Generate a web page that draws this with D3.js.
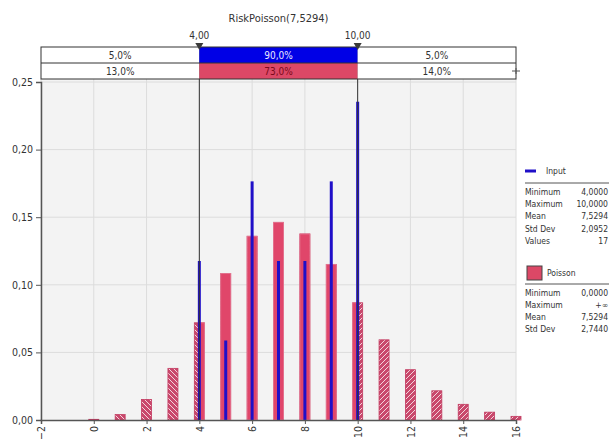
<!DOCTYPE html>
<html lang="en">
  <head>
    <meta charset="utf-8" />
    <title>RiskPoisson(7,5294)</title>
    <script type="text/javascript" src="https://d3js.org/d3.v7.min.js"></script>
    <style>
      body { margin: 0; background: #fff; }
      text { font-family: "DejaVu Sans Condensed", "DejaVu Sans", sans-serif; font-stretch: condensed; fill: #333; }
    </style>
  </head>
  <body>
    <script type="text/javascript">
      // values
      var xTicks = [-2, 0, 2, 4, 6, 8, 10, 12, 14, 16];
      var yTicks = [0, 0.05, 0.1, 0.15, 0.2, 0.25];

      var poissonK = [0, 1, 2, 3, 4, 5, 6, 7, 8, 9, 10, 11, 12, 13, 14, 15, 16];
      var poissonP = [0.0005, 0.004, 0.0152, 0.0382, 0.0719, 0.1083, 0.1359, 0.1462,
                      0.1376, 0.1151, 0.0867, 0.0593, 0.0372, 0.0216, 0.0116, 0.0058, 0.0027];

      var inputK = [4, 5, 6, 7, 8, 9, 10];
      var inputP = [0.1176, 0.0588, 0.1765, 0.1176, 0.1176, 0.1765, 0.2353];

      var markers = [4, 10];
      var markerLabels = ["4,00", "10,00"];
      var bandInput = ["5,0%", "90,0%", "5,0%"];
      var bandPoisson = ["13,0%", "73,0%", "14,0%"];

      var inputStatNames = ["Minimum", "Maximum", "Mean", "Std Dev", "Values"];
      var inputStatValues = ["4,0000", "10,0000", "7,5294", "2,0952", "17"];
      var poissonStatNames = ["Minimum", "Maximum", "Mean", "Std Dev"];
      var poissonStatValues = ["0,0000", "+\u221e", "7,5294", "2,7440"];

      var width = 609, height = 439;
      var mLeft = 41, mRight = 516, mTop = 82, mBottom = 420;

      var x = d3.scaleLinear().domain([-2, 16]).range([mLeft, mRight]);
      var y = d3.scaleLinear().domain([0, 0.25]).range([mBottom, mTop]);
      var comma = function (s) { return s.replace(".", ","); };

      var svg = d3.select("body").append("svg")
        .attr("width", width).attr("height", height);

      var defs = svg.append("defs");
      function hatch(id, d) {
        var p = defs.append("pattern").attr("id", id)
          .attr("patternUnits", "userSpaceOnUse").attr("width", 5).attr("height", 5);
        p.append("rect").attr("width", 5).attr("height", 5).attr("fill", "#c9486c");
        p.append("path").attr("d", d).attr("stroke", "#f4d4dc").attr("stroke-width", 1);
      }
      hatch("hatchL", "M0,0L5,5M-1,4L1,6M4,-1L6,1");
      hatch("hatchR", "M0,5L5,0M-1,1L1,-1M4,6L6,4");
      defs.append("clipPath").attr("id", "clipMid").append("rect")
        .attr("x", x(markers[0])).attr("y", 0)
        .attr("width", x(markers[1]) - x(markers[0])).attr("height", height);

      // plot background + grid
      svg.append("rect").attr("x", mLeft).attr("y", 79)
        .attr("width", mRight - mLeft).attr("height", mBottom - 79).attr("fill", "#f3f3f3");
      svg.append("g").selectAll("line").data(xTicks).join("line")
        .attr("x1", d => x(d)).attr("x2", d => x(d)).attr("y1", 79).attr("y2", mBottom)
        .attr("stroke", "#dcdcdc");
      svg.append("g").selectAll("line").data(yTicks.slice(1)).join("line")
        .attr("x1", mLeft).attr("x2", mRight).attr("y1", d => y(d)).attr("y2", d => y(d))
        .attr("stroke", "#dcdcdc");

      // poisson bars: hatched outside the marker range, solid inside
      var bw = 10;
      var bars = svg.append("g");
      bars.selectAll("rect").data(poissonK).join("rect")
        .attr("x", d => x(d) - bw / 2).attr("y", (d, i) => y(poissonP[i]))
        .attr("width", bw).attr("height", (d, i) => mBottom - y(poissonP[i]))
        .attr("fill", d => d < 7 ? "url(#hatchL)" : "url(#hatchR)")
        .attr("stroke", "#c23a60").attr("stroke-width", 0.8);
      bars.append("g").attr("clip-path", "url(#clipMid)")
        .selectAll("rect").data(poissonK).join("rect")
        .attr("x", d => x(d) - bw / 2).attr("y", (d, i) => y(poissonP[i]))
        .attr("width", bw).attr("height", (d, i) => mBottom - y(poissonP[i]))
        .attr("fill", "#e0466a").attr("stroke", "#e67a94").attr("stroke-width", 0.8);

      // input lines
      svg.append("g").selectAll("line").data(inputK).join("line")
        .attr("x1", d => x(d)).attr("x2", d => x(d))
        .attr("y1", mBottom).attr("y2", (d, i) => y(inputP[i]))
        .attr("stroke", "#1f0fc8").attr("stroke-width", 3);

      // axes
      var yAxis = svg.append("g").attr("transform", "translate(" + mLeft + ",0)")
        .call(d3.axisLeft(y).tickValues(yTicks).tickSize(5).tickPadding(3)
          .tickFormat(d => comma(d3.format(".2f")(d))));
      var xAxis = svg.append("g").attr("transform", "translate(0," + mBottom + ")")
        .call(d3.axisBottom(x).tickValues(xTicks).tickSize(4).tickFormat(d3.format("d")));
      [xAxis, yAxis].forEach(function (a) {
        a.select(".domain").attr("stroke", "#555").attr("stroke-width", 1.5);
        a.selectAll(".tick line").attr("stroke", "#555");
        a.selectAll("text").attr("fill", "#444").style("font-size", "10.5px").attr("font-family", null);
      });
      xAxis.selectAll("text")
        .style("font-size", "10.5px")
        .attr("y", null).attr("dy", "0.35em").attr("text-anchor", "end")
        .attr("transform", "translate(0,6) rotate(-90)");

      // marker lines and triangles
      svg.append("g").selectAll("line").data(markers).join("line")
        .attr("x1", d => x(d)).attr("x2", d => x(d)).attr("y1", 44).attr("y2", mBottom)
        .attr("stroke", "#333").attr("stroke-width", 1);

      // band
      var bx = [x(-2), x(markers[0]), x(markers[1]), x(16)];
      var rows = [
        { y: 47, labels: bandInput, mid: "#0000e6", midText: "#e8e8ff" },
        { y: 63, labels: bandPoisson, mid: "#dc4866", midText: "#7a0a1a" }
      ];
      rows.forEach(function (r) {
        var g = svg.append("g");
        g.selectAll("rect").data([0, 1, 2]).join("rect")
          .attr("x", i => bx[i]).attr("y", r.y).attr("width", i => bx[i + 1] - bx[i]).attr("height", 16)
          .attr("fill", i => i === 1 ? r.mid : "#fff");
        g.selectAll("text").data([0, 1, 2]).join("text")
          .attr("x", i => (bx[i] + bx[i + 1]) / 2).attr("y", r.y + 12)
          .attr("text-anchor", "middle").style("font-size", "10px")
          .style("fill", i => i === 1 ? r.midText : "#333")
          .text(i => r.labels[i]);
      });
      svg.append("rect").attr("x", bx[0]).attr("y", 47).attr("width", bx[3] - bx[0]).attr("height", 32)
        .attr("fill", "none").attr("stroke", "#333").attr("stroke-width", 1);
      svg.append("line").attr("x1", bx[0]).attr("x2", bx[3]).attr("y1", 63).attr("y2", 63)
        .attr("stroke", "#333");
      svg.append("path").attr("d", "M512,71H520M516,68V74").attr("stroke", "#555").attr("fill", "none");

      svg.append("g").selectAll("path").data(markers).join("path")
        .attr("d", d => "M" + (x(d) - 4) + ",43H" + (x(d) + 4) + "L" + x(d) + ",50Z")
        .attr("fill", "#3a3a3a");
      svg.append("g").selectAll("text").data(markers).join("text")
        .attr("x", d => x(d)).attr("y", 39).attr("text-anchor", "middle")
        .style("font-size", "10px").text((d, i) => markerLabels[i]);

      svg.append("text").attr("x", (mLeft + mRight) / 2).attr("y", 22)
        .attr("text-anchor", "middle").style("font-size", "11px").text("RiskPoisson(7,5294)");

      // legend
      var lg = svg.append("g");
      lg.append("line").attr("x1", 525).attr("x2", 536).attr("y1", 171).attr("y2", 171)
        .attr("stroke", "#1f0fc8").attr("stroke-width", 3);
      lg.append("text").attr("x", 546).attr("y", 174).style("font-size", "8.5px").text("Input");
      lg.append("line").attr("x1", 525).attr("x2", 609).attr("y1", 183).attr("y2", 183).attr("stroke", "#555");
      lg.append("g").selectAll("text").data(inputStatNames).join("text")
        .attr("x", 525).attr("y", (d, i) => 195 + i * 12.2).style("font-size", "8.5px").text(d => d);
      lg.append("g").selectAll("text").data(inputStatValues).join("text")
        .attr("x", 608).attr("y", (d, i) => 195 + i * 12.2).attr("text-anchor", "end")
        .style("font-size", "8.5px").text(d => d);

      lg.append("rect").attr("x", 527).attr("y", 266).attr("width", 15).attr("height", 14)
        .attr("fill", "#dc4866").attr("stroke", "#444");
      lg.append("text").attr("x", 547).attr("y", 276).style("font-size", "8.5px").text("Poisson");
      lg.append("line").attr("x1", 525).attr("x2", 609).attr("y1", 284).attr("y2", 284).attr("stroke", "#555");
      lg.append("g").selectAll("text").data(poissonStatNames).join("text")
        .attr("x", 525).attr("y", (d, i) => 296 + i * 12).style("font-size", "8.5px").text(d => d);
      lg.append("g").selectAll("text").data(poissonStatValues).join("text")
        .attr("x", 608).attr("y", (d, i) => 296 + i * 12).attr("text-anchor", "end")
        .style("font-size", "8.5px").text(d => d);
    </script>
  </body>
</html>
